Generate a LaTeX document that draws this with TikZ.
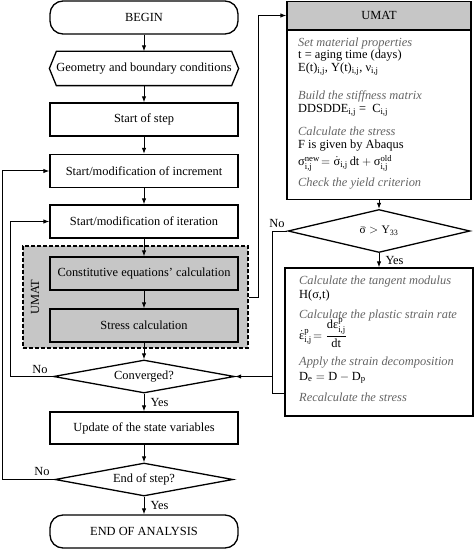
\documentclass[tikz,border=0pt]{standalone}
\usepackage{amsmath}
\usepackage{fontspec}
\setmainfont{Liberation Serif}
\usetikzlibrary{arrows.meta,shapes.geometric}
\definecolor{boxgray}{RGB}{198,198,198}
\definecolor{txtgray}{RGB}{100,100,100}
\tikzset{
  every node/.style={font=\fontsize{12.4bp}{14bp}\selectfont},
  box/.style={draw, line width=1.3bp, minimum width=188bp, minimum height=33bp, inner sep=0pt},
  rbox/.style={box, rounded corners=13bp},
  dia/.style={draw, diamond, line width=1.3bp, inner sep=0pt, aspect=5.4},
  conn/.style={line width=1bp},
  arr/.style={conn, -{Latex[length=6bp,width=4.5bp]}},
  lbl/.style={inner sep=0pt, anchor=west, xshift=6bp},
  ln/.style={anchor=base west, inner sep=0pt},
  itl/.style={ln, text=txtgray, font=\fontsize{12.4bp}{14bp}\selectfont\itshape},
}
\begin{document}
\begin{tikzpicture}[x=1bp,y=-1bp]
\useasboundingbox (0,0) rectangle (474,549);

% left column
\node[rbox] (begin) at (144,17.5) {BEGIN};
\node[box, draw=none] (geom) at (144,68.5) {Geometry and boundary conditions};
\draw[line width=1.3bp] (geom.west) -- ([xshift=7bp]geom.north west) -- ([xshift=-7bp]geom.north east) -- (geom.east) -- ([xshift=-7bp]geom.south east) -- ([xshift=7bp]geom.south west) -- cycle;
\node[box] (step) at (144,119.5) {Start of step};
\node[box] (inc) at (144,171) {Start/modification of increment};
\node[box] (iter) at (144,221.5) {Start/modification of iteration};
\node[draw, dashed, dash pattern=on 4bp off 2bp, line width=1.3bp, fill=boxgray, minimum width=225bp, minimum height=102bp, inner sep=0pt] (grp) at (135.5,297) {};
\node[box, fill=boxgray] (const) at (144,273.5) {Constitutive equations' calculation};
\node[box, fill=boxgray] (stress) at (144,325.5) {Stress calculation};
\node[rotate=90] (glbl) at (35,297) {UMAT};
\node[dia, minimum width=181bp, minimum height=33bp] (conv) at (144,376.5) {Converged?};
\node[box, minimum height=32bp] (upd) at (144,428) {Update of the state variables};
\node[dia, minimum width=178bp, minimum height=33bp] (eos) at (144,479.5) {End of step?};
\node[rbox] (end) at (144,531.5) {END OF ANALYSIS};

% right column
\node[box, minimum width=184bp, minimum height=28bp, fill=boxgray] (uhead) at (379,15.5) {UMAT};
\node[box, minimum width=184bp, minimum height=169bp, anchor=north] (ubody) at (uhead.south) {};
\node[dia, aspect=4.2, minimum width=182bp, minimum height=43bp] (sig) at (379,231) {\fontsize{11.5bp}{13bp}\selectfont $\bar{\text{σ}} > \text{Y}_{\text{33}}$};
\node[box, minimum width=188bp, minimum height=148bp] (low) at (379,342) {};

% UMAT text
\node[itl] (u1) at (298,47) {Set material properties};
\node[ln] (u2) at (298,59) {t = aging time (days)};
\node[ln] (u3) at (298,72) {E(t)$_{\text{i,j}}$, Y(t)$_{\text{i,j}}$, ν$_{\text{i,j}}$};
\node[itl] (u4) at (298,100) {Build the stiffness matrix};
\node[ln] (u5) at (298,113) {DDSDDE$_{\text{i,j}}$ = \ C$_{\text{i,j}}$};
\node[itl] (u6) at (298,136) {Calculate the stress};
\node[ln] (u7) at (298,149) {F is given by Abaqus};
\node[ln] (u8) at (298,166) {$\text{σ}^{\text{new}}_{\text{i,j}}\!=\dot{\text{σ}}_{\text{i,j}}\,\text{dt}+\text{σ}^{\text{old}}_{\text{i,j}}$};
\node[itl] (u9) at (298,187) {Check the yield criterion};

% lower box text
\node[itl] (l1) at (299,284) {Calculate the tangent modulus};
\node[ln] (l2) at (299,298) {H(σ,t)};
\node[itl] (l3) at (299,318) {Calculate the plastic strain rate};
\node[ln] (l4) at (299,339) {$\dot{\text{ε}}^{\text{p}}_{\text{i,j}}\!=\dfrac{\text{dε}^{\text{p}}_{\text{i,j}}}{\text{dt}}$};
\node[itl] (l5) at (299,365) {Apply the strain decomposition};
\node[ln] (l6) at (299,380) {$\text{D}_{\text{e}}=\text{D}-\text{D}_{\text{p}}$};
\node[itl] (l7) at (299,401) {Recalculate the stress};

% connectors
\draw[arr] (begin) -- (geom);
\draw[arr] (geom) -- (step);
\draw[arr] (step) -- (inc);
\draw[arr] (inc) -- (iter);
\draw[arr] (iter) -- (const);
\draw[arr] (const) -- (stress);
\draw[arr] (stress) -- (conv);
\draw[arr] (conv) -- node[lbl]{Yes} (upd);
\draw[arr] (upd) -- (eos);
\draw[arr] (eos) -- node[lbl]{Yes} (end);
\draw[arr] (conv.west) -- ++(-42,0) |- (iter.west);
\node (no1) at (40,369) {No};
\draw[arr] (eos.west) -- ++(-52,0) |- (inc.west);
\node (no2) at (42,471) {No};
\draw[arr] (grp.east) -- ++(10,0) |- (uhead.west);
\draw[arr] (ubody) -- (sig);
\draw[arr] (sig) -- node[lbl]{Yes} (low);
\coordinate (nj) at (272,393);
\draw[conn] (sig.west) -| (nj) -- (nj -| low.west);
\draw[arr] (nj |- conv.east) -- (conv.east);
\node (no3) at (277,224) {No};
\end{tikzpicture}
\end{document}
